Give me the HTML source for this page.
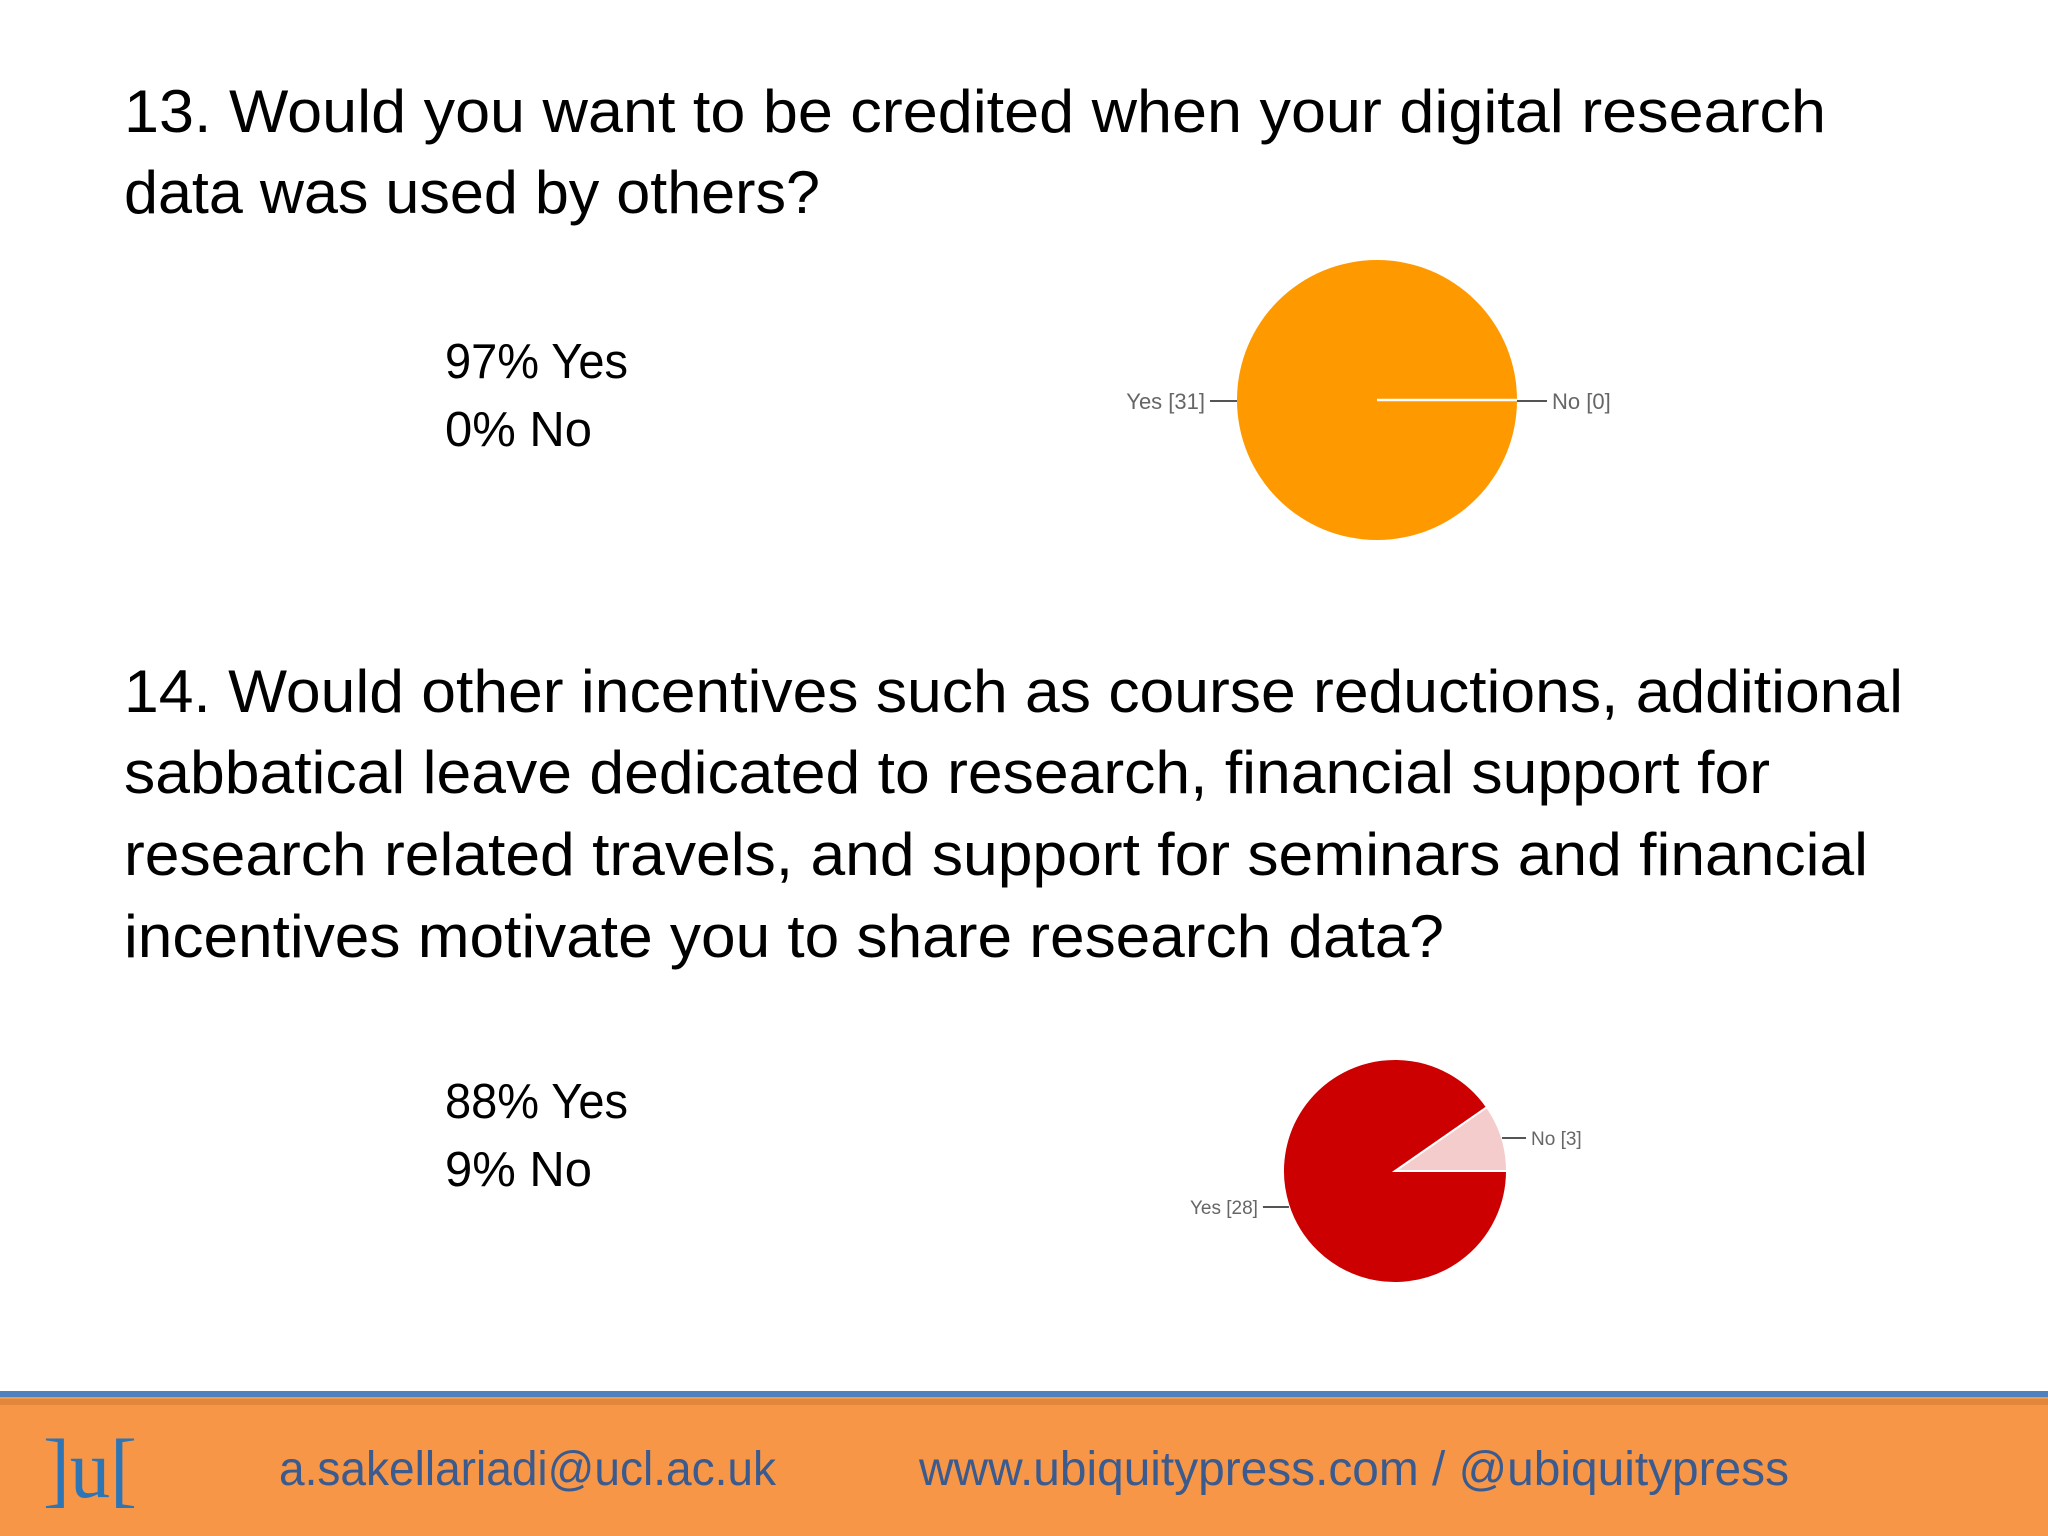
<!DOCTYPE html>
<html><head><meta charset="utf-8">
<style>
html,body{margin:0;padding:0;background:#fff;}
svg{display:block;}
text{font-family:"Liberation Sans",sans-serif;}
</style></head>
<body>
<svg id="slide" width="2048" height="1536" viewBox="0 0 2048 1536" xmlns="http://www.w3.org/2000/svg">
  <rect width="2048" height="1536" fill="#ffffff"/>
  <g fill="#000" font-size="60">
    <text x="124" y="132" textLength="1702" lengthAdjust="spacingAndGlyphs">13. Would you want to be credited when your digital research</text>
    <text x="124" y="213" textLength="696" lengthAdjust="spacingAndGlyphs">data was used by others?</text>
  </g>
  <g fill="#000" font-size="49">
    <text x="445" y="378" textLength="183" lengthAdjust="spacingAndGlyphs">97% Yes</text>
    <text x="445" y="446" textLength="147" lengthAdjust="spacingAndGlyphs">0% No</text>
  </g>
  <g fill="#000" font-size="60">
    <text x="124" y="712" textLength="1779" lengthAdjust="spacingAndGlyphs">14. Would other incentives such as course reductions, additional</text>
    <text x="124" y="793" textLength="1646" lengthAdjust="spacingAndGlyphs">sabbatical leave dedicated to research, financial support for</text>
    <text x="124" y="875" textLength="1744" lengthAdjust="spacingAndGlyphs">research related travels, and support for seminars and financial</text>
    <text x="124" y="957" textLength="1320" lengthAdjust="spacingAndGlyphs">incentives motivate you to share research data?</text>
  </g>
  <g fill="#000" font-size="49">
    <text x="445" y="1118" textLength="183" lengthAdjust="spacingAndGlyphs">88% Yes</text>
    <text x="445" y="1186" textLength="147" lengthAdjust="spacingAndGlyphs">9% No</text>
  </g>
  <g id="pie1"></g>
  <g id="pie2"></g>
  <g>
    <rect x="0" y="1397" width="2048" height="139" fill="#f79646"/>
    <rect x="0" y="1399" width="2048" height="6" fill="#c9772f" opacity="0.5"/>
    <rect x="0" y="1391" width="2048" height="6" fill="#4f81bd"/>
    <text x="43" y="1497" font-size="84" fill="#2e75b6" textLength="94" lengthAdjust="spacingAndGlyphs" style="font-family:'Liberation Serif',serif">]u[</text>
    <text x="279" y="1485" font-size="48" fill="#3b5b8f" textLength="497" lengthAdjust="spacingAndGlyphs">a.sakellariadi@ucl.ac.uk</text>
    <text x="919" y="1485" font-size="48" fill="#3b5b8f" textLength="870" lengthAdjust="spacingAndGlyphs">www.ubiquitypress.com / @ubiquitypress</text>
  </g>
</svg>
<script>
const q13Categories = ["Yes", "No"];
const q13Values = [31, 0];
const q13Colors = ["#ff9900", "#ffe0b2"];
const q14Categories = ["Yes", "No"];
const q14Values = [28, 3];
const q14Colors = ["#cc0000", "#f4cccc"];

const NS = "http://www.w3.org/2000/svg";
function mk(tag, attrs, parent){
  const e = document.createElementNS(NS, tag);
  for (const k in attrs) e.setAttribute(k, attrs[k]);
  parent.appendChild(e);
  return e;
}
function pt(cx, cy, r, a){ return [cx + r*Math.cos(a), cy - r*Math.sin(a)]; }

function drawPie(g, cats, vals, colors, cx, cy, r, fs, labelCfg){
  const total = vals.reduce((a,b)=>a+b,0);
  const slices = mk("g", {}, g);
  const overlay = mk("g", {}, g);
  let a0 = 0;
  const order = [];
  for (let i = cats.length-1; i >= 0; i--) order.push(i);
  order.forEach(i => {
    const frac = vals[i]/total;
    const a1 = a0 + frac*2*Math.PI;
    let el;
    if (frac >= 0.9999) {
      el = mk("circle", {cx, cy, r, fill: colors[i]}, slices);
    } else if (frac > 0) {
      const p0 = pt(cx,cy,r,a0), p1 = pt(cx,cy,r,a1);
      const large = (a1-a0) > Math.PI ? 1 : 0;
      el = mk("path", {d:`M${cx},${cy} L${p0[0]},${p0[1]} A${r},${r} 0 ${large} 0 ${p1[0]},${p1[1]} Z`, fill: colors[i], stroke:"#fff", "stroke-width":2}, slices);
    } else {
      const p0 = pt(cx,cy,r,a0);
      el = mk("line", {x1:cx, y1:cy, x2:p0[0], y2:p0[1], stroke:"#fff", "stroke-width":2.5}, overlay);
    }
    
    
    const cfg = labelCfg[i];
    const ly = cfg.y;
    const dx = Math.sqrt(Math.max(0, r*r-(ly-cy)*(ly-cy)));
    const ex = cfg.side > 0 ? cx + dx : cx - dx;
    const lx2 = ex + cfg.side*cfg.len;
    const ln = mk("line", {x1:ex, y1:ly, x2:lx2, y2:ly, stroke:"#555", "stroke-width":2}, overlay);
    
    
    const t = mk("text", {x: lx2 + cfg.side*5, y: ly + fs*0.36, "font-size": fs, fill:"#666", "text-anchor": cfg.side>0?"start":"end"}, overlay);
    t.textContent = cats[i] + " [" + vals[i] + "]";
    
    
    a0 = a1;
  });
}
drawPie(document.getElementById("pie1"), q13Categories, q13Values, q13Colors, 1377, 400, 140, 22,
  [{side:-1, y:401, len:27}, {side:1, y:401, len:30}]);
drawPie(document.getElementById("pie2"), q14Categories, q14Values, q14Colors, 1395, 1171, 112, 19,
  [{side:-1, y:1207, len:26}, {side:1, y:1138, len:24}]);
</script>
</body></html>
